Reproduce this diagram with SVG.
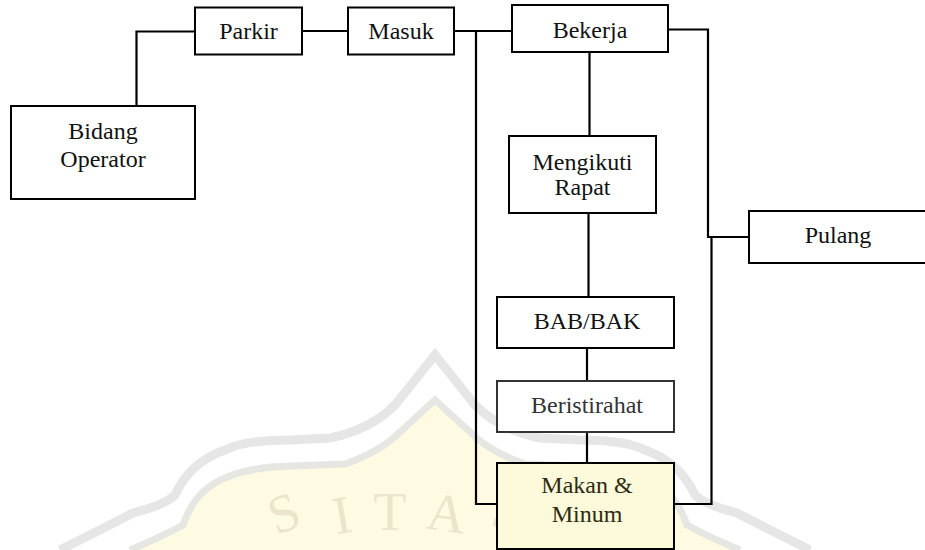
<svg xmlns="http://www.w3.org/2000/svg" width="925" height="550" viewBox="0 0 925 550">
<style>
.box{fill:#ffffff;stroke:#000;stroke-width:2}
.lbl{font-family:"Liberation Serif","Times New Roman",serif;font-size:24px;fill:#111;text-anchor:middle}
.con{fill:none;stroke:#000;stroke-width:2.2}
.wm{font-family:"Liberation Serif","Times New Roman",serif;font-size:54px;fill:#ebe6cb;text-anchor:middle}
</style>
<rect width="925" height="550" fill="#ffffff"/>
<g id="watermark">
<path d="M130,550 Q165,535 183,525 Q195,490 225,478 Q250,467 290,466 L345,464 Q380,452 400,432 L435,400 L470,432 Q490,452 525,464 L580,466 Q620,467 645,478 Q675,490 687,525 Q705,535 740,550 Z" fill="#fffbe3"/>
<path d="M130,550 Q165,535 183,525 Q195,490 225,478 Q250,467 290,466 L345,464 Q380,452 400,432 L435,400 L470,432 Q490,452 525,464 L580,466 Q620,467 645,478 Q675,490 687,525 Q705,535 740,550" fill="none" stroke="#e6e6e2" stroke-width="7"/>
<path d="M60,550 Q100,530 133,513 Q165,505 175,495 Q190,462 225,450 Q245,440 290,440 L330,438 Q370,430 395,405 L435,355 L475,405 Q500,430 540,438 L580,440 Q625,440 645,450 Q680,462 695,495 Q705,505 737,513 Q770,530 810,550" fill="none" stroke="#e6e6e6" stroke-width="9"/>
<text class="wm" transform="translate(290,530) rotate(-20)">S</text>
<text class="wm" transform="translate(345,533) rotate(-10)">I</text>
<text class="wm" transform="translate(390,530)">T</text>
<text class="wm" transform="translate(444,531) rotate(8)">A</text>
<text class="wm" transform="translate(503,530) rotate(18)">S</text>
</g>
<g id="connectors">
<path class="con" d="M136.5,106 V31.5 H195"/>
<path class="con" d="M302,31 H348"/>
<path class="con" d="M454,31 H512"/>
<path class="con" d="M476,31 V504 H497"/>
<path class="con" d="M589.5,52 V136"/>
<path class="con" d="M588.5,213 V297"/>
<path class="con" d="M587,348 V381"/>
<path class="con" d="M587,432 V463"/>
<path class="con" d="M668,29.5 H708 V237 H749"/>
<path class="con" d="M674,504 H711.5 V237"/>
</g>
<g id="bidang-operator">
<rect class="box" x="11" y="106" width="184" height="93"/>
<text class="lbl" x="103" y="139">Bidang</text>
<text class="lbl" x="103" y="167">Operator</text>
</g>
<g id="parkir">
<rect class="box" x="195" y="7.5" width="107" height="47"/>
<text class="lbl" x="248.5" y="39">Parkir</text>
</g>
<g id="masuk">
<rect class="box" x="348" y="7.5" width="106" height="47"/>
<text class="lbl" x="401" y="39">Masuk</text>
</g>
<g id="bekerja">
<rect class="box" x="512" y="5" width="156" height="47"/>
<text class="lbl" x="590" y="37.5">Bekerja</text>
</g>
<g id="mengikuti-rapat">
<rect class="box" x="509" y="136" width="147" height="77"/>
<text class="lbl" x="582.5" y="170">Mengikuti</text>
<text class="lbl" x="582.5" y="195">Rapat</text>
</g>
<g id="pulang">
<rect class="box" x="749" y="211" width="190" height="52"/>
<text class="lbl" x="838" y="243">Pulang</text>
</g>
<g id="bab-bak">
<rect class="box" x="497" y="297" width="177" height="51"/>
<text class="lbl" x="587" y="329">BAB/BAK</text>
</g>
<g id="beristirahat">
<rect class="box" x="497" y="381" width="177" height="51" style="stroke:#333"/>
<text class="lbl" x="587" y="413" style="fill:#333">Beristirahat</text>
</g>
<g id="makan-minum">
<rect class="box" x="497" y="463" width="177" height="86" style="fill:#fdfadc"/>
<text class="lbl" x="587" y="493" style="fill:#2e2a10">Makan &amp;</text>
<text class="lbl" x="587" y="522" style="fill:#2e2a10">Minum</text>
</g>
</svg>
